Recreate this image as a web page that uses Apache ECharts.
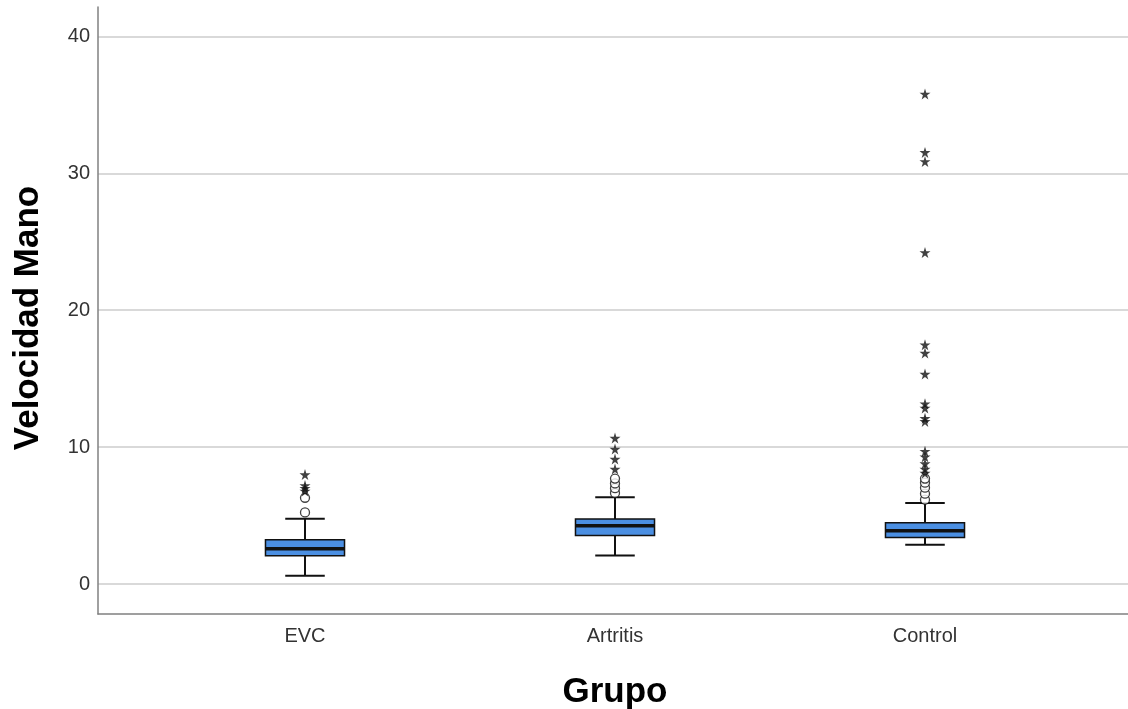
<!DOCTYPE html>
<html>
<head>
<meta charset="utf-8">
<script src="https://cdn.jsdelivr.net/npm/echarts@6/dist/echarts.min.js"></script>
<style>
html,body{margin:0;padding:0;background:#fff;}
#chart{width:1128px;height:709px;}
</style>
</head>
<body>
<div id="chart"></div>
<script>
// ---- data ----
var categories = ['EVC', 'Artritis', 'Control'];
var whiskerLow  = [0.61, 2.09, 2.87];
var q1          = [2.07, 3.55, 3.40];
var median      = [2.58, 4.26, 3.89];
var q3          = [3.24, 4.75, 4.48];
var whiskerHigh = [4.77, 6.33, 5.92];
// mild outliers (circles)
var outliersEVC      = [5.23, 6.30];
var outliersArtritis = [6.65, 7.00, 7.35, 7.70];
var outliersControl  = [6.16, 6.60, 7.04, 7.40, 7.70];
// extreme outliers (stars)
var extremesEVC      = [6.80, 7.00, 7.20, 8.00];
var extremesArtritis = [8.40, 9.13, 9.86, 10.66];
var extremesControl  = [8.10, 8.40, 8.80, 9.30, 9.70, 11.88, 12.10, 12.86, 13.17, 15.34, 16.87, 17.48, 24.22, 30.87, 31.53, 35.80];
var yTicks = [0, 10, 20, 30, 40];
var yMin = -2.19, yMax = 42.15;

// ---- build ----
var boxData = categories.map(function (c, i) {
  return [i, whiskerLow[i], q1[i], median[i], q3[i], whiskerHigh[i]];
});
function pts(idx, arr) { return arr.map(function (v) { return [idx, v]; }); }
var circleData = [].concat(pts(0, outliersEVC), pts(1, outliersArtritis), pts(2, outliersControl));
var starData = [].concat(pts(0, extremesEVC), pts(1, extremesArtritis), pts(2, extremesControl));

var starPath = 'path://M50,0 L61,35 L98,35 L68,57 L79,91 L50,70 L21,91 L32,57 L2,35 L39,35 Z';
var boxColor = '#4b8fe2';
var lineColor = '#111111';

function renderBox(params, api) {
  var x = api.value(0);
  var pLow = api.coord([x, api.value(1)]);
  var pQ1 = api.coord([x, api.value(2)]);
  var pMed = api.coord([x, api.value(3)]);
  var pQ3 = api.coord([x, api.value(4)]);
  var pHigh = api.coord([x, api.value(5)]);
  var band = api.size([1, 0])[0];
  var bw = band * 0.255;
  var cw = bw * 0.5;
  var cx = pLow[0];
  var ls = { stroke: lineColor, lineWidth: 2 };
  return {
    type: 'group',
    children: [
      { type: 'line', shape: { x1: cx, y1: pQ1[1], x2: cx, y2: pLow[1] }, style: ls },
      { type: 'line', shape: { x1: cx, y1: pQ3[1], x2: cx, y2: pHigh[1] }, style: ls },
      { type: 'line', shape: { x1: cx - cw / 2, y1: pLow[1], x2: cx + cw / 2, y2: pLow[1] }, style: ls },
      { type: 'line', shape: { x1: cx - cw / 2, y1: pHigh[1], x2: cx + cw / 2, y2: pHigh[1] }, style: ls },
      { type: 'rect', shape: { x: cx - bw / 2, y: pQ3[1], width: bw, height: pQ1[1] - pQ3[1] },
        style: { fill: boxColor, stroke: lineColor, lineWidth: 1.5 } },
      { type: 'line', shape: { x1: cx - bw / 2, y1: pMed[1], x2: cx + bw / 2, y2: pMed[1] },
        style: { stroke: lineColor, lineWidth: 3.5 } }
    ]
  };
}

var chart = echarts.init(document.getElementById('chart'), null, { renderer: 'canvas' });
var font = '"Liberation Sans", Arial, sans-serif';
chart.setOption({
  animation: false,
  backgroundColor: '#ffffff',
  grid: [
    { left: 98, right: 0, top: 7, bottom: 95, containLabel: false, outerBoundsMode: 'none' },
    { left: 150, right: 48, top: 7, bottom: 95, containLabel: false, outerBoundsMode: 'none' }
  ],
  xAxis: [
    { gridIndex: 0, type: 'value', min: 0, max: 1,
      axisLine: { show: true, onZero: false, lineStyle: { color: '#808080', width: 1.5 } },
      axisTick: { show: false }, axisLabel: { show: false }, splitLine: { show: false } },
    { gridIndex: 1, type: 'category', data: categories, boundaryGap: true,
      axisLine: { show: false }, axisTick: { show: false },
      axisLabel: { fontSize: 20, color: '#333333', fontFamily: font, margin: 12 },
      name: 'Grupo', nameLocation: 'middle', nameGap: 61,
      nameTextStyle: { fontSize: 35, fontWeight: 'bold', color: '#000000', fontFamily: font } }
  ],
  yAxis: [
    { gridIndex: 0, type: 'value', min: yMin, max: yMax, splitNumber: 5,
      axisLine: { show: true, onZero: false, lineStyle: { color: '#808080', width: 1.5 } },
      axisTick: { show: false },
      axisLabel: { fontSize: 20, color: '#333333', fontFamily: font, margin: 8,
        showMinLabel: false, showMaxLabel: false,
        formatter: function (v) { return yTicks.indexOf(v) >= 0 ? String(v) : ''; } },
      splitLine: { show: true, showMinLine: false, showMaxLine: false,
        lineStyle: { color: '#cccccc', width: 1.5 } } },
    { gridIndex: 1, type: 'value', min: yMin, max: yMax, show: false,
      splitLine: { show: false } }
  ],
  graphic: [
    { type: 'text', x: 28, y: 318, rotation: Math.PI / 2,
      style: { text: 'Velocidad Mano', fontSize: 35, fontWeight: 'bold', fontFamily: font,
        fill: '#000000', align: 'center', verticalAlign: 'middle' } }
  ],
  series: [
    { type: 'custom', xAxisIndex: 1, yAxisIndex: 1, renderItem: renderBox, data: boxData, z: 2 },
    { type: 'scatter', xAxisIndex: 1, yAxisIndex: 1, data: circleData, symbol: 'circle', symbolSize: 9,
      itemStyle: { color: '#ffffff', borderColor: lineColor, borderWidth: 1.3 }, z: 3 },
    { type: 'scatter', xAxisIndex: 1, yAxisIndex: 1, data: starData, symbol: starPath, symbolSize: 11,
      itemStyle: { color: lineColor }, z: 4 }
  ]
});
</script>
</body>
</html>
